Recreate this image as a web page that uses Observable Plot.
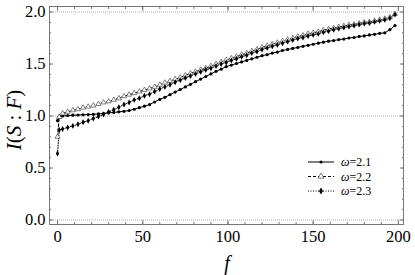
<!DOCTYPE html>
<html><head><meta charset="utf-8">
<script src="https://cdn.jsdelivr.net/npm/d3@7"></script>
<script src="https://cdn.jsdelivr.net/npm/@observablehq/plot@0.6"></script>
<style>
body{margin:0;background:#fff}
#chart{position:relative;width:415px;height:275px}
#chart svg text{font-family:"Liberation Serif","DejaVu Serif",serif !important}
</style>
</head><body><div id="chart"></div><script>
const f = [0,1,3,6,9,12,15,18,21,24,27,30,33,36,39,42,45,48,51,54,57,60,63,66,69,72,75,78,81,84,87,90,93,96,99,102,105,108,111,114,117,120,123,126,129,132,135,138,141,144,147,150,153,156,159,162,165,168,171,174,177,180,183,186,189,192,195,198];
const w21 = [0.955,0.99,1.0,1.005,1.008,1.01,1.012,1.014,1.016,1.02,1.025,1.03,1.035,1.04,1.045,1.053,1.065,1.08,1.095,1.11,1.135,1.16,1.18,1.205,1.23,1.255,1.28,1.305,1.33,1.355,1.38,1.405,1.43,1.45,1.475,1.49,1.505,1.52,1.535,1.55,1.565,1.58,1.59,1.605,1.615,1.63,1.64,1.65,1.66,1.67,1.68,1.69,1.70,1.71,1.72,1.725,1.735,1.74,1.75,1.755,1.765,1.77,1.78,1.785,1.795,1.80,1.83,1.87];
const w22 = [0.80,0.99,1.025,1.04,1.055,1.065,1.08,1.09,1.10,1.115,1.13,1.14,1.155,1.17,1.19,1.205,1.22,1.235,1.25,1.265,1.28,1.30,1.32,1.335,1.355,1.37,1.39,1.41,1.425,1.445,1.46,1.48,1.50,1.52,1.54,1.555,1.57,1.59,1.605,1.625,1.64,1.66,1.675,1.69,1.705,1.72,1.735,1.75,1.765,1.775,1.79,1.80,1.81,1.825,1.835,1.845,1.855,1.865,1.875,1.88,1.89,1.90,1.905,1.915,1.925,1.935,1.95,1.98];
const w23 = [0.64,0.865,0.875,0.89,0.905,0.92,0.94,0.955,0.975,0.995,1.015,1.04,1.06,1.085,1.11,1.13,1.155,1.17,1.195,1.21,1.235,1.26,1.28,1.30,1.325,1.345,1.365,1.385,1.405,1.425,1.445,1.46,1.48,1.50,1.515,1.535,1.55,1.57,1.585,1.605,1.62,1.64,1.655,1.67,1.685,1.70,1.715,1.73,1.745,1.755,1.77,1.78,1.79,1.805,1.815,1.83,1.84,1.85,1.86,1.87,1.88,1.89,1.895,1.905,1.915,1.925,1.94,1.975];
const labels = ["2.1","2.2","2.3"];
const xMajor = [0,50,100,150,200];
const yMajor = [0,0.5,1,1.5,2];
const xMinor = [0,10,20,30,40,50,60,70,80,90,100,110,120,130,140,150,160,170,180,190,200];
const yMinor = [0,0.1,0.2,0.3,0.4,0.5,0.6,0.7,0.8,0.9,1,1.1,1.2,1.3,1.4,1.5,1.6,1.7,1.8,1.9,2];
const gridY = [0,1,2];

const serif = "Liberation Serif, DejaVu Serif, serif";
const styles = {
  "2.1": {dash: null, symbol: "circle", r: 1.6, fill: "#000", stroke: "none"},
  "2.2": {dash: "3,2", symbol: "triangle", r: 1.9, fill: "#fff", stroke: "#333"},
  "2.3": {dash: "1,1.5", symbol: "diamond", r: 1.8, fill: "#000", stroke: "none"}
};
const seriesVals = {"2.1": w21, "2.2": w22, "2.3": w23};
const rows = labels.map(s => f.map((x, i) => ({f: x, v: seriesVals[s][i], s})));

const marks = [
  Plot.ruleY(gridY, {stroke: "#aaa", strokeWidth: 1, strokeDasharray: "1,1"}),
];
for (const [k, s] of labels.entries()) {
  const st = styles[s];
  marks.push(Plot.line(rows[k], {x: "f", y: "v", stroke: "#000", strokeWidth: 1, strokeDasharray: st.dash}));
}
for (const [k, s] of labels.entries()) {
  const st = styles[s];
  marks.push(Plot.dot(rows[k], {x: "f", y: "v", symbol: () => st.symbol, r: st.r, fill: st.fill, stroke: st.stroke, strokeWidth: 0.6}));
}
const tickColor = "#777";
marks.push(
  Plot.frame({stroke: "#777", strokeWidth: 1}),
  Plot.axisX({anchor: "bottom", ticks: xMajor, tickSize: -4, tickPadding: 10, label: null, fontSize: 16.5, fontFamily: serif, stroke: tickColor, color: "#000"}),
  Plot.axisX({anchor: "bottom", ticks: xMinor, tickSize: -2, tickFormat: () => "", label: null, stroke: tickColor}),
  Plot.axisX({anchor: "top", ticks: xMajor, tickSize: -4, tickFormat: () => "", label: null, stroke: tickColor}),
  Plot.axisX({anchor: "top", ticks: xMinor, tickSize: -2, tickFormat: () => "", label: null, stroke: tickColor}),
  Plot.axisY({anchor: "left", ticks: yMajor, tickSize: -4, tickPadding: 8, tickFormat: d3.format(".1f"), label: null, fontSize: 16.5, fontFamily: serif, stroke: tickColor, color: "#000"}),
  Plot.axisY({anchor: "left", ticks: yMinor, tickSize: -2, tickFormat: () => "", label: null, stroke: tickColor}),
  Plot.axisY({anchor: "right", ticks: yMajor, tickSize: -4, tickFormat: () => "", label: null, stroke: tickColor}),
  Plot.axisY({anchor: "right", ticks: yMinor, tickSize: -2, tickFormat: () => "", label: null, stroke: tickColor})
);

const plot = Plot.plot({
  width: 415, height: 275,
  marginLeft: 49, marginRight: 12, marginTop: 6, marginBottom: 51,
  x: {domain: [-4.7, 203]},
  y: {domain: [-0.043, 2.053]},
  style: {color: "#000", background: "#fff", fontFamily: serif},
  marks
});
document.getElementById("chart").appendChild(plot);

const svg = d3.select(plot);
// x axis label
svg.append("text").attr("x", 227).attr("y", 270).attr("text-anchor", "middle")
  .attr("font-size", 20).attr("font-style", "italic").attr("fill", "#000").text("f");
// y axis label
const yl = svg.append("text").attr("transform", "translate(21,120) rotate(-90)")
  .attr("text-anchor", "middle").attr("font-size", 21).attr("fill", "#000");
yl.append("tspan").attr("font-style", "italic").text("I");
yl.append("tspan").text("(");
yl.append("tspan").attr("font-style", "italic").text("S");
yl.append("tspan").text(" : ");
yl.append("tspan").attr("font-style", "italic").text("F");
yl.append("tspan").text(")");

// legend
const symGen = {circle: d3.symbolCircle, triangle: d3.symbolTriangle, diamond: d3.symbolDiamond};
labels.forEach((s, i) => {
  const st = styles[s];
  const y = 162 + i * 14.5;
  const g = svg.append("g");
  g.append("line").attr("x1", 308).attr("x2", 334).attr("y1", y).attr("y2", y)
    .attr("stroke", "#000").attr("stroke-width", 1).attr("stroke-dasharray", st.dash);
  const area = Math.PI * st.r * st.r * (st.symbol === "circle" ? 1 : 1.4);
  g.append("path").attr("d", d3.symbol(symGen[st.symbol], area)()).attr("transform", `translate(321,${y})`)
    .attr("fill", st.fill).attr("stroke", st.stroke).attr("stroke-width", 0.6);
  const t = g.append("text").attr("x", 341).attr("y", y + 4).attr("text-anchor", "start")
    .attr("font-size", 12).attr("fill", "#000");
  t.append("tspan").attr("font-style", "italic").text("ω");
  t.append("tspan").text("=" + s);
});
svg.selectAll("text").attr("font-family", serif);
</script></body></html>
